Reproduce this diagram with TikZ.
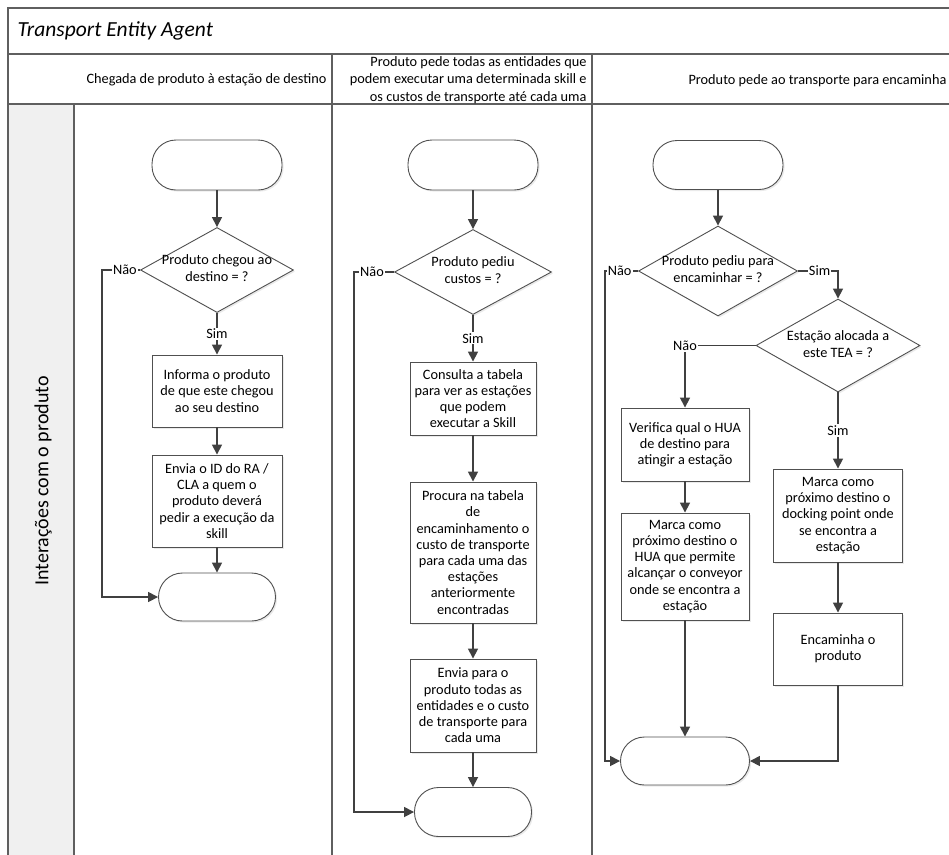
\documentclass[tikz,border=0pt]{standalone}
\usepackage{fontspec}
\setmainfont{Carlito}
\usetikzlibrary{shapes.geometric,arrows.meta,shadows}

\definecolor{framegray}{HTML}{5F5F5F}
\definecolor{shapegray}{HTML}{505050}
\definecolor{flowgray}{HTML}{404040}
\definecolor{lanefill}{HTML}{F0F0F0}

\begin{document}
\begin{tikzpicture}[x=1pt,y=-1pt,
  frameline/.style={draw=framegray, line width=1.2pt},
  shade/.style={drop shadow={shadow xshift=1.6pt,shadow yshift=-1.6pt,fill=black!16}},
  txt/.style={font=\fontsize{14.3}{16.2}\selectfont},
  proc/.style={txt, draw=shapegray, line width=0.9pt, fill=white, shade, align=center, inner sep=2pt},
  term/.style={draw=shapegray, line width=0.9pt, fill=white, shade, rounded corners=24pt},
  decision/.style={diamond, draw=shapegray, line width=0.9pt, fill=white, shade, inner sep=0pt},
  dtext/.style={txt, align=center},
  lbl/.style={txt, fill=white, inner sep=1.2pt},
  link/.style={draw=flowgray, line width=1.6pt},
  flow/.style={link, -{Triangle[length=10pt,width=10pt]}},
]
\useasboundingbox (0,0) rectangle (949,854);

% pool frame, title row, header row and swimlane
\fill[lanefill] (8,104) rectangle (74,870);
\draw[frameline] (960,8) -- (8,8) -- (8,870);
\draw[frameline] (8,54) -- (960,54);
\draw[frameline] (8,104) -- (960,104);
\draw[frameline] (74,104) -- (74,870);
\draw[frameline] (332,54) -- (332,870);
\draw[frameline] (592,54) -- (592,870);

\node[anchor=west, font=\fontsize{21.5}{25}\selectfont\itshape] (title) at (14,31) {Transport Entity Agent};
\node[txt, anchor=east] (h1) at (330,80) {Chegada de produto à estação de destino};
\node[anchor=east, align=right, font=\fontsize{14.3}{17.5}\selectfont] (h2) at (590,80)
  {Produto pede todas as entidades que\\podem executar uma determinada skill e\\os custos de transporte até cada uma};
\node[txt, anchor=west] (h3) at (685,81) {Produto pede ao transporte para encaminha};
\node[rotate=90, font=\fontsize{20}{24}\selectfont] (lane) at (43,481) {Interações com o produto};

% ---- column 1: product arrives at destination station
\node[term, minimum width=130pt, minimum height=50pt] (s1) at (217,165) {};
\node[decision, minimum width=153pt, minimum height=85pt] (d1) at (217,270) {};
\node[dtext] (d1t) at (217,268) {Produto chegou ao\\destino = ?};
\node[proc, minimum width=130pt, minimum height=72pt] (b1) at (217,391)
  {Informa o produto\\de que este chegou\\ao seu destino};
\node[proc, minimum width=130pt, minimum height=92pt] (b2) at (217,501)
  {Envia o ID do RA /\\CLA a quem o\\produto deverá\\pedir a execução da\\skill};
\node[term, minimum width=117pt, minimum height=48pt] (e1) at (217,597) {};

\draw[flow] (s1.south) -- (d1.north);
\draw[flow] (d1.south) -- node[lbl] {Sim} (b1.north);
\draw[flow] (b1.south) -- (b2.north);
\draw[flow] (b2.south) -- (e1.north);
\draw[flow] (d1.west) -- node[lbl, pos=0.4] {Não} ++(-38,0) |- (e1.west);

% ---- column 2: product asks for entities and transport costs
\node[term, minimum width=130pt, minimum height=50pt] (s2) at (473,165) {};
\node[decision, minimum width=157pt, minimum height=85pt] (d2) at (473,272) {};
\node[dtext] (d2t) at (473,270) {Produto pediu\\custos = ?};
\node[proc, minimum width=126pt, minimum height=73pt] (c1) at (473,398.5)
  {Consulta a tabela\\para ver as estações\\que podem\\executar a Skill};
\node[proc, minimum width=126pt, minimum height=141pt] (c2) at (473,552.5)
  {Procura na tabela\\de\\encaminhamento o\\custo de transporte\\para cada uma das\\estações\\anteriormente\\encontradas};
\node[proc, minimum width=126pt, minimum height=93pt] (c3) at (473,705.5)
  {Envia para o\\produto todas as\\entidades e o custo\\de transporte para\\cada uma};
\node[term, minimum width=117pt, minimum height=49pt] (e2) at (473,812) {};

\draw[flow] (s2.south) -- (d2.north);
\draw[flow] (d2.south) -- node[lbl] {Sim} (c1.north);
\draw[flow] (c1.south) -- (c2.north);
\draw[flow] (c2.south) -- (c3.north);
\draw[flow] (c3.south) -- (e2.north);
\draw[flow] (d2.west) -- node[lbl, pos=0.55] {Não} ++(-40,0) |- (e2.west);

% ---- column 3: product asks the transport to route it
\node[term, minimum width=130pt, minimum height=49pt] (s3) at (718,165) {};
\node[decision, minimum width=159pt, minimum height=90pt] (d3) at (718,271) {};
\node[dtext] (d3t) at (718,269) {Produto pediu para\\encaminhar = ?};
\node[decision, minimum width=164pt, minimum height=93pt] (d4) at (838,345.5) {};
\node[dtext] (d4t) at (838,344) {Estação alocada a\\este TEA = ?};
\node[proc, minimum width=128pt, minimum height=73pt] (l1) at (685,444.5)
  {Verifica qual o HUA\\de destino para\\atingir a estação};
\node[proc, minimum width=128pt, minimum height=107pt] (l2) at (685,566.5)
  {Marca como\\próximo destino o\\HUA que permite\\alcançar o conveyor\\onde se encontra a\\estação};
\node[proc, minimum width=129pt, minimum height=93pt] (r1) at (838,515.5)
  {Marca como\\próximo destino o\\docking point onde\\se encontra a\\estação};
\node[proc, minimum width=129pt, minimum height=72pt] (r2) at (838,649)
  {Encaminha o\\produto};
\node[term, minimum width=129pt, minimum height=48pt] (e3) at (685,761) {};

\draw[flow] (s3.south) -- (d3.north);
\draw[flow] (d3.east) -| node[lbl, pos=0.27] {Sim} (d4.north);
\draw[flow] (d4.west) -| node[lbl] {Não} (l1.north);
\draw[flow] (d4.south) -- node[lbl] {Sim} (r1.north);
\draw[flow] (l1.south) -- (l2.north);
\draw[flow] (l2.south) -- (e3.north);
\draw[flow] (r1.south) -- (r2.north);
\draw[flow] (r2.south) |- (e3.east);
\draw[flow] (d3.west) -- node[lbl, pos=0.56] {Não} ++(-33,0) |- (e3.west);
\end{tikzpicture}
\end{document}
